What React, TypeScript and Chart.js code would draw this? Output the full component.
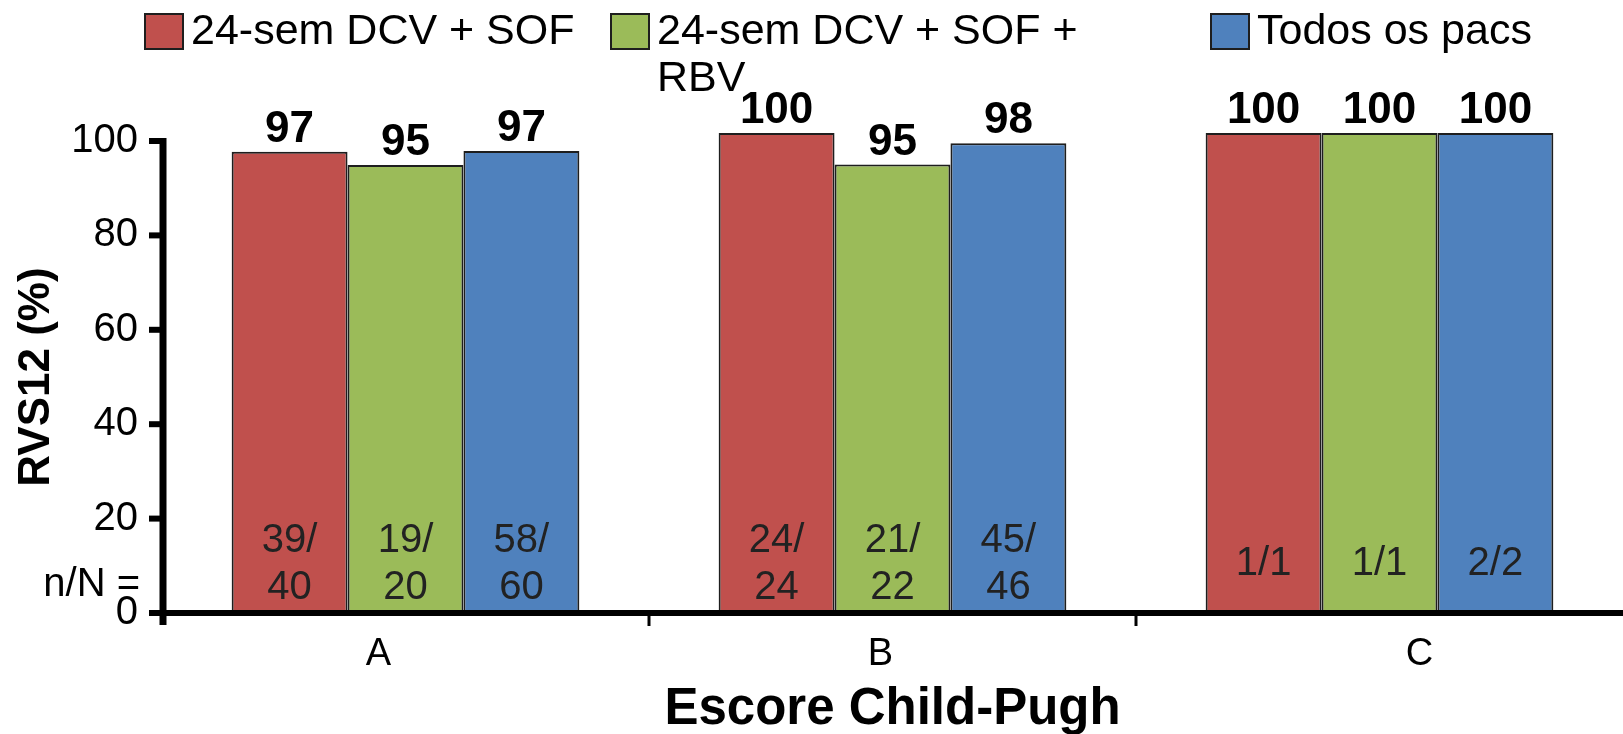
import React, { useEffect, useRef } from 'react';
import { Chart, registerables } from 'chart.js';

Chart.register(...registerables);

const categories = ['A', 'B', 'C'];
const seriesNames = ['24-sem DCV + SOF', '24-sem DCV + SOF + RBV', 'Todos os pacs'];
const legendLines = [['24-sem DCV + SOF'], ['24-sem DCV + SOF +', 'RBV'], ['Todos os pacs']];
const seriesColors = ['#C0504D', '#9BBB59', '#4F81BD'];

// bar heights
const dcvSof = [97.7, 101.7, 101.7];
const dcvSofRbv = [94.9, 95.0, 101.7];
const todosPacs = [97.9, 99.5, 101.7];

// printed labels
const dcvSofLabels = ['97', '100', '100'];
const dcvSofRbvLabels = ['95', '95', '100'];
const todosPacsLabels = ['97', '98', '100'];

const dcvSofN = [['39/', '40'], ['24/', '24'], ['1/1']];
const dcvSofRbvN = [['19/', '20'], ['21/', '22'], ['1/1']];
const todosPacsN = [['58/', '60'], ['45/', '46'], ['2/2']];

const yTicks = [0, 20, 40, 60, 80, 100];
const yTitle = 'RVS12 (%)';
const xTitle = 'Escore Child-Pugh';
const nNPrefix = 'n/N =';

const FONT = '"Liberation Sans", Arial, Helvetica, sans-serif';

const valueLabels = [dcvSofLabels, dcvSofRbvLabels, todosPacsLabels];
const nLabels = [dcvSofN, dcvSofRbvN, todosPacsN];
const catShift = [-27, -12, 40];
const legendBoxX = [145, 611, 1211];

const annotatePlugin = {
  id: 'annotate',
  afterDatasetsDraw(chart: any) {
    const ctx = chart.ctx;
    const xScale = chart.scales.x;
    const yScale = chart.scales.y;
    const area = chart.chartArea;
    const y0 = yScale.getPixelForValue(0);
    ctx.save();
    // axes
    ctx.strokeStyle = '#000';
    ctx.lineCap = 'butt';
    ctx.lineWidth = 6;
    yTicks.forEach((v) => {
      const py = yScale.getPixelForValue(v);
      ctx.beginPath();
      ctx.moveTo(area.left - 13, py);
      ctx.lineTo(area.left, py);
      ctx.stroke();
    });
    ctx.lineWidth = 3;
    for (let i = 0; i < categories.length - 1; i++) {
      const px = (xScale.getPixelForValue(i) + xScale.getPixelForValue(i + 1)) / 2;
      ctx.beginPath();
      ctx.moveTo(px, area.bottom);
      ctx.lineTo(px, area.bottom + 13);
      ctx.stroke();
    }
    ctx.lineWidth = 6;
    ctx.beginPath();
    ctx.moveTo(area.left - 13, y0);
    ctx.lineTo(area.right, y0);
    ctx.stroke();
    ctx.lineWidth = 7;
    ctx.beginPath();
    ctx.moveTo(area.left + 1, yScale.getPixelForValue(100) - 3);
    ctx.lineTo(area.left + 1, y0 + 12);
    ctx.stroke();

    chart.data.datasets.forEach((_ds: any, di: number) => {
      const meta = chart.getDatasetMeta(di);
      meta.data.forEach((bar: any, i: number) => {
        ctx.fillStyle = '#000';
        ctx.font = `bold 44px ${FONT}`;
        ctx.textAlign = 'center';
        ctx.textBaseline = 'alphabetic';
        ctx.fillText(valueLabels[di][i], bar.x, bar.y - 10);
        const lines = nLabels[di][i];
        ctx.fillStyle = '#222';
        ctx.font = `40px ${FONT}`;
        ctx.textBaseline = 'middle';
        if (lines.length === 2) {
          ctx.fillText(lines[0], bar.x, y0 - 72);
          ctx.fillText(lines[1], bar.x, y0 - 25);
        } else {
          ctx.fillText(lines[0], bar.x, y0 - 49);
        }
      });
    });
    ctx.restore();
  },
  afterDraw(chart: any) {
    const ctx = chart.ctx;
    const xScale = chart.scales.x;
    const yScale = chart.scales.y;
    ctx.save();
    // category labels
    ctx.fillStyle = '#000';
    ctx.font = `38px ${FONT}`;
    ctx.textAlign = 'center';
    ctx.textBaseline = 'middle';
    categories.forEach((c, i) => {
      ctx.fillText(c, xScale.getPixelForValue(i) + catShift[i], yScale.bottom + 42);
    });
    // n/N prefix
    ctx.font = `40px ${FONT}`;
    ctx.textAlign = 'right';
    ctx.fillText(nNPrefix, 140, yScale.getPixelForValue(0) - 28);
    // legend
    ctx.font = `43px ${FONT}`;
    ctx.textAlign = 'left';
    legendLines.forEach((lines, i) => {
      const bx = legendBoxX[i];
      ctx.fillStyle = seriesColors[i];
      ctx.fillRect(bx, 14, 38, 35);
      ctx.strokeStyle = '#1e1e1e';
      ctx.lineWidth = 2;
      ctx.strokeRect(bx, 14, 38, 35);
      ctx.fillStyle = '#000';
      lines.forEach((t, li) => {
        ctx.fillText(t, bx + 46, 32 + li * 47);
      });
    });
    ctx.restore();
  },
};

export default function App() {
  const ref = useRef<HTMLCanvasElement | null>(null);
  useEffect(() => {
    document.body.style.margin = '0';
    const canvas = ref.current;
    if (!canvas) return;
    const series = [dcvSof, dcvSofRbv, todosPacs];
    const chart = new Chart(canvas, {
      type: 'bar',
      data: {
        labels: categories,
        datasets: series.map((d, i) => ({
          label: seriesNames[i],
          data: d,
          backgroundColor: seriesColors[i],
          borderColor: '#1e1e1e',
          borderWidth: 2,
          clip: false as any,
          categoryPercentage: 0.714,
          barPercentage: 1.0,
        })),
      },
      options: {
        responsive: false,
        maintainAspectRatio: false,
        devicePixelRatio: 1,
        animation: false,
        layout: { padding: { top: 141, left: 0, right: 0, bottom: 0 } },
        plugins: {
          legend: { display: false },
          tooltip: { enabled: false },
          title: { display: false },
        },
        scales: {
          x: {
            type: 'category',
            afterFit: (s: any) => { s.height = 121; },
            border: { display: false },
            grid: { display: false },
            ticks: { display: false },
            title: {
              display: true,
              text: xTitle,
              color: '#000',
              font: { family: FONT, size: 51, weight: 'bold', lineHeight: 0.85 },
              padding: { top: 0, bottom: 2 },
            },
          },
          y: {
            type: 'linear',
            min: 0,
            max: 100,
            afterFit: (s: any) => { s.width = 162; },
            afterBuildTicks: (s: any) => { s.ticks = yTicks.map((v) => ({ value: v })); },
            border: { display: false },
            grid: {
              display: true,
              drawOnChartArea: false,
              drawTicks: true,
              tickLength: 12,
              tickColor: 'rgba(0,0,0,0)',
              color: 'rgba(0,0,0,0)',
            },
            ticks: {
              color: '#000',
              padding: 12,
              font: { family: FONT, size: 40 },
            },
            title: {
              display: true,
              text: yTitle,
              color: '#000',
              font: { family: FONT, size: 44, weight: 'bold', lineHeight: 1.2 },
              padding: { top: 10, bottom: 0 },
            },
          },
        },
      },
      plugins: [annotatePlugin],
    } as any);
    return () => chart.destroy();
  }, []);
  return <canvas ref={ref} width={1623} height={734} style={{ display: 'block', width: 1623, height: 734 }} />;
}
